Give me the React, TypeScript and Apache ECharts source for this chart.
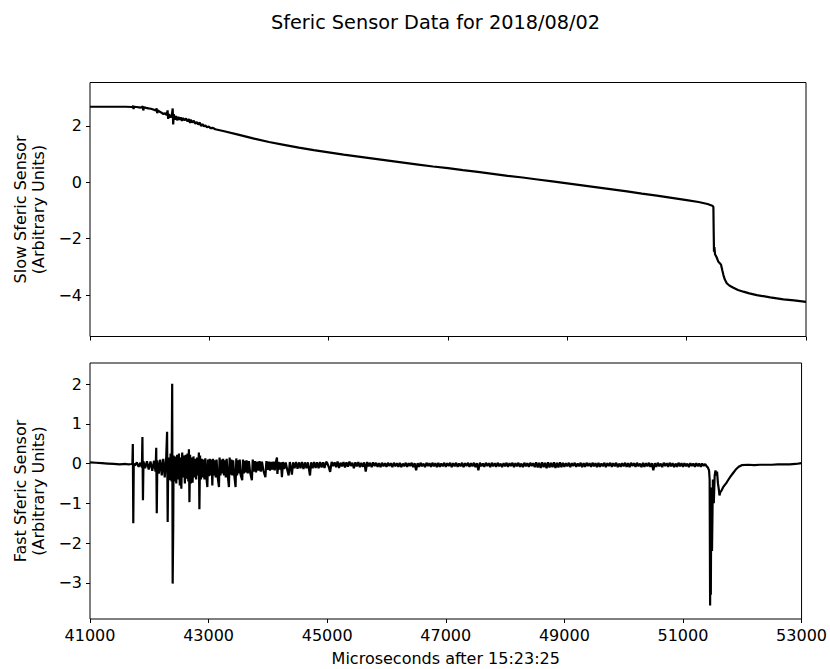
import React, { useEffect, useRef } from "react";
import * as echarts from "echarts";

const titleText = "Sferic Sensor Data for 2018/08/02";
const xLabel = "Microseconds after 15:23:25";
const slowLabel = "Slow Sferic Sensor\n(Arbitrary Units)";
const fastLabel = "Fast Sferic Sensor\n(Arbitrary Units)";

const xTicks = [41000, 43000, 45000, 47000, 49000, 51000, 53000];
const slowTicks = [-4, -2, 0, 2];
const fastTicks = [-3, -2, -1, 0, 1, 2];
const xRange = [41000, 53000];
const slowRange = [-5.47, 3.54];
const fastRange = [-3.91, 2.53];

// Slow sensor: [microseconds, value]
const slowLead = [[41000, 2.68], [41200, 2.68], [41400, 2.68], [41600, 2.68], [41700, 2.67]];
const slowBurst = [
  [41715, 2.66], [41722, 2.72], [41730, 2.6], [41740, 2.68], [41780, 2.67], [41820, 2.66], [41860, 2.65],
  [41884, 2.7], [41893, 2.55], [41905, 2.66], [41940, 2.64], [41980, 2.62], [42020, 2.61], [42060, 2.58],
  [42100, 2.55], [42117, 2.62], [42126, 2.45], [42140, 2.55], [42170, 2.5], [42200, 2.47], [42230, 2.42],
  [42260, 2.45], [42285, 2.38], [42300, 2.55], [42310, 2.25], [42325, 2.42], [42350, 2.3], [42370, 2.36],
  [42386, 2.62], [42394, 2.05], [42405, 2.42], [42420, 2.22], [42440, 2.35], [42460, 2.2], [42480, 2.32],
  [42500, 2.22], [42520, 2.3], [42540, 2.18], [42560, 2.28], [42585, 2.2], [42610, 2.26], [42635, 2.16],
  [42660, 2.24], [42677, 2.1], [42690, 2.22], [42715, 2.12], [42740, 2.18], [42765, 2.08], [42790, 2.14],
  [42815, 2.05], [42840, 2.12], [42860, 2.0], [42885, 2.06], [42910, 1.98], [42935, 2.02], [42960, 1.95],
  [42990, 1.98], [43020, 1.92], [43060, 1.93], [43100, 1.88],
];
const slowTrend = [
  [43250, 1.81], [43500, 1.68], [43750, 1.55], [44000, 1.43], [44250, 1.33], [44500, 1.23], [44750, 1.14],
  [45000, 1.06], [45250, 0.98], [45500, 0.91], [45750, 0.84], [46000, 0.77], [46250, 0.7], [46500, 0.63],
  [46750, 0.56], [47000, 0.5], [47250, 0.43], [47500, 0.37], [47750, 0.3], [48000, 0.23], [48250, 0.17],
  [48500, 0.1], [48750, 0.03], [49000, -0.04], [49250, -0.11], [49500, -0.18], [49750, -0.25],
  [50000, -0.32], [50250, -0.4], [50500, -0.47], [50750, -0.55], [51000, -0.63], [51200, -0.7],
  [51350, -0.77], [51430, -0.83], [51440, -0.85],
];
const slowDrop = [
  [51448, -0.88], [51452, -1.6], [51458, -2.46], [51465, -2.3], [51475, -2.55], [51500, -2.65],
  [51532, -2.82], [51560, -2.88], [51577, -2.93], [51600, -3.15], [51616, -3.29], [51640, -3.45],
  [51672, -3.58], [51720, -3.67], [51784, -3.74], [51860, -3.82], [51951, -3.88], [52050, -3.94],
  [52175, -4.0], [52400, -4.08], [52622, -4.15], [52800, -4.19], [53000, -4.24],
];

// Fast sensor: [microseconds, value]
const fastLead = [
  [41000, 0.03], [41100, 0.02], [41200, 0.01], [41300, 0.0], [41400, -0.01], [41500, -0.02],
  [41600, -0.01], [41650, -0.02], [41700, -0.01],
];
const fastBurst = [
  [41715, 0.0], [41722, 0.49], [41730, -1.5], [41738, 0.0], [41760, -0.05], [41790, 0.03], [41820, -0.08],
  [41850, 0.02], [41875, -0.1], [41884, 0.67], [41893, -0.92], [41902, 0.05], [41930, -0.12], [41960, 0.06],
  [41990, -0.15], [42020, 0.05], [42050, -0.18], [42080, 0.07], [42105, -0.2], [42117, 0.4], [42126, -1.25],
  [42136, 0.08], [42160, -0.25], [42185, 0.1], [42210, -0.3], [42235, 0.12], [42260, -0.35], [42285, 0.15],
  [42300, 0.8], [42310, -1.47], [42320, 0.15], [42340, -0.42], [42360, 0.25], [42376, -0.45],
  [42386, 2.01], [42394, -3.02], [42403, -1.68], [42410, 0.2], [42425, -0.45], [42440, 0.18], [42455, -0.5],
  [42470, 0.22], [42485, -0.4], [42500, 0.25], [42515, -0.55], [42530, 0.15], [42540, -0.63], [42555, 0.28],
  [42570, -0.35], [42585, 0.2], [42600, -0.5], [42615, 0.22], [42630, -0.38], [42645, 0.25], [42658, -0.45],
  [42668, 0.36], [42677, -0.97], [42688, 0.22], [42700, -0.5], [42715, 0.15], [42730, -0.48], [42745, 0.18],
  [42760, -0.35], [42775, 0.12], [42790, -0.4], [42805, 0.15], [42820, -0.3], [42836, 0.28], [42845, -1.15],
  [42856, 0.2], [42870, -0.4], [42885, 0.12], [42900, -0.35], [42915, 0.1], [42930, -0.4], [42945, 0.13],
  [42960, -0.3], [42979, -0.59], [42990, 0.1], [43005, -0.32], [43020, 0.12], [43035, -0.3], [43050, 0.1],
  [43063, -0.55], [43075, 0.12], [43090, -0.3], [43105, 0.08], [43120, -0.35], [43135, 0.1], [43150, -0.3],
  [43175, -0.59], [43185, 0.15], [43200, -0.3], [43215, 0.1], [43230, -0.25], [43245, 0.12], [43260, -0.3],
  [43275, 0.08], [43290, -0.35], [43305, 0.12], [43320, -0.25], [43343, -0.59], [43355, 0.15], [43370, -0.28],
  [43385, 0.1], [43400, -0.3], [43415, 0.08], [43430, -0.25], [43455, -0.59], [43467, 0.13], [43480, -0.3],
  [43495, 0.08], [43510, -0.25], [43525, 0.1], [43540, -0.28], [43567, -0.42], [43580, 0.1], [43595, -0.25],
  [43610, 0.07], [43625, -0.22], [43640, 0.08], [43660, -0.25], [43680, 0.06], [43700, -0.22], [43730, -0.42],
  [43745, 0.1], [43760, -0.2], [43780, 0.06], [43800, -0.22], [43820, 0.05], [43840, -0.18], [43860, 0.06],
  [43880, -0.2], [43900, 0.05], [43925, -0.18], [43958, -0.34], [43975, 0.06], [43995, -0.16], [44015, 0.05],
  [44035, -0.18], [44055, 0.04], [44075, -0.15], [44095, 0.05], [44115, -0.17], [44135, 0.04], [44153, 0.15],
  [44160, -0.26], [44180, 0.04], [44200, -0.15], [44220, 0.03], [44237, -0.34], [44255, 0.04], [44275, -0.14],
  [44300, 0.03], [44325, -0.15], [44350, -0.3], [44370, 0.04], [44390, -0.13], [44405, -0.28], [44425, 0.03],
  [44450, -0.12], [44475, 0.04], [44500, -0.13], [44525, 0.03], [44550, -0.12], [44575, 0.04], [44600, -0.14],
  [44625, 0.03], [44650, -0.12], [44675, 0.03], [44710, -0.3], [44730, 0.03], [44755, -0.12], [44780, 0.04],
  [44805, -0.11], [44830, 0.03], [44855, -0.12], [44880, 0.04], [44905, -0.1], [44930, 0.03], [44955, -0.11],
  [44980, 0.04],
];
// Quiet stretch, sampled every 25 µs starting at 45000
const fastQuietStart = 45000;
const fastQuietStep = 25;
const fastQuietValues = [
  0.02, -0.08, -0.21, 0.04, -0.06, 0.03, -0.09, 0.05, -0.11, 0.02, -0.07, 0.04, -0.1, 0.03, -0.08, 0.05, -0.06, 0.02, -0.12, 0.03,
  -0.07, 0.04, -0.09, 0.02, -0.08, 0.03, -0.2, 0.04, -0.07, 0.02, -0.09, 0.03, -0.06, 0.02, -0.08, 0.01, -0.09, 0.02, -0.07, 0.01,
  -0.08, 0.02, -0.06, 0.01, -0.09, 0.02, -0.07, 0.01, -0.08, 0.02, -0.09, 0.0, -0.07, 0.02, -0.08, 0.01, -0.06, 0.02, -0.09, 0.01,
  -0.17, 0.01, -0.08, 0.02, -0.07, 0.0, -0.09, 0.02, -0.06, 0.01, -0.08, 0.02, -0.07, 0.01, -0.09, 0.02, -0.08, 0.0, -0.07, 0.02,
  -0.08, 0.01, -0.06, 0.02, -0.09, 0.01, -0.07, 0.02, -0.08, 0.0, -0.07, 0.02, -0.09, 0.01, -0.06, 0.02, -0.08, 0.01, -0.07, 0.02,
  -0.09, 0.01, -0.17, 0.02, -0.07, 0.0, -0.08, 0.02, -0.06, 0.01, -0.09, 0.02, -0.07, 0.01, -0.08, 0.02, -0.07, 0.0, -0.09, 0.01,
  -0.07, 0.02, -0.08, 0.01, -0.06, 0.02, -0.09, 0.01, -0.07, 0.02, -0.08, 0.0, -0.09, 0.02, -0.07, 0.01, -0.08, 0.02, -0.06, 0.01,
  -0.09, 0.03, -0.1, 0.02, -0.11, 0.03, -0.09, 0.02, -0.12, 0.03, -0.1, 0.02, -0.09, 0.03, -0.11, 0.02, -0.1, 0.03, -0.09, 0.02,
  -0.08, 0.01, -0.07, 0.02, -0.09, 0.01, -0.06, 0.02, -0.08, 0.0, -0.07, 0.02, -0.09, 0.01, -0.08, 0.02, -0.06, 0.01, -0.08, 0.02,
  -0.07, 0.01, -0.09, 0.02, -0.08, 0.0, -0.07, 0.02, -0.09, 0.01, -0.06, 0.02, -0.08, 0.01, -0.07, 0.02, -0.09, 0.0, -0.08, 0.01,
  -0.07, 0.02, -0.08, 0.01, -0.09, 0.02, -0.06, 0.01, -0.08, 0.02, -0.07, 0.0, -0.09, 0.02, -0.08, 0.01, -0.07, 0.02, -0.08, 0.01,
  -0.17, 0.01, -0.08, 0.02, -0.07, 0.0, -0.09, 0.02, -0.06, 0.01, -0.08, 0.02, -0.07, 0.01, -0.09, 0.0, -0.08, 0.02, -0.07, 0.01,
  -0.08, 0.01, -0.07, 0.0, -0.09, 0.01, -0.06, 0.0, -0.08, 0.01, -0.07, 0.0, -0.08, 0.0, -0.06, -0.01, -0.07,
];
const fastDip = [
  [51420, -0.1], [51440, -0.17], [51450, -0.4], [51458, -3.57], [51464, -1.2], [51470, -3.3], [51478, -0.6],
  [51490, -2.2], [51505, -0.4], [51520, -1.0], [51535, -0.3], [51549, -0.17], [51560, -0.3], [51575, -0.2],
  [51590, -0.5], [51605, -0.65], [51616, -0.8], [51630, -0.72], [51650, -0.68], [51675, -0.6], [51700, -0.55],
  [51730, -0.49], [51760, -0.42], [51800, -0.33], [51840, -0.25], [51890, -0.15], [51940, -0.08],
  [51990, -0.04], [52100, -0.03], [52200, -0.04], [52300, -0.03], [52400, -0.03], [52500, -0.03],
  [52600, -0.02], [52700, -0.02], [52800, -0.02], [52900, -0.01], [53000, 0.01],
];

const FONT = "DejaVu Sans";
const INK = "#000";

const fmtTick = (v: number) => (v < 0 ? "\u2212" + Math.abs(v) : String(v));

export default function App() {
  const ref = useRef<HTMLDivElement>(null);

  useEffect(() => {
    if (!ref.current) return;
    const chart = echarts.init(ref.current, undefined, { renderer: "svg" });

    const fastQuiet = fastQuietValues.map((v, i) => [fastQuietStart + i * fastQuietStep, v]);
    const slowData = [...slowLead, ...slowBurst, ...slowTrend, ...slowDrop];
    const fastData = [...fastLead, ...fastBurst, ...fastQuiet, ...fastDip];

    const gridCommon = {
      left: 90,
      width: 716,
      show: true,
      borderColor: INK,
      borderWidth: 1,
      backgroundColor: "transparent",
      containLabel: false,
    };

    const xCommon = (showLabels: boolean) => ({
      type: "value",
      min: xRange[0],
      max: xRange[1],
      axisLine: { show: false, onZero: false },
      splitLine: { show: false },
      axisTick: {
        show: true,
        inside: false,
        length: 4,
        customValues: xTicks,
        lineStyle: { color: INK, width: 1 },
      },
      axisLabel: {
        show: showLabels,
        customValues: xTicks,
        margin: 8,
        color: INK,
        fontFamily: FONT,
        fontSize: 16,
        formatter: (v: number) => String(v),
      },
    });

    const yCommon = (range: number[], ticks: number[], name: string) => ({
      type: "value",
      min: range[0],
      max: range[1],
      name,
      nameLocation: "middle",
      nameGap: 40,
      nameTextStyle: { color: INK, fontFamily: FONT, fontSize: 16, lineHeight: 18, align: "center" },
      axisLine: { show: false, onZero: false },
      splitLine: { show: false },
      axisTick: {
        show: true,
        inside: false,
        length: 4,
        customValues: ticks,
        lineStyle: { color: INK, width: 1 },
      },
      axisLabel: {
        customValues: ticks,
        margin: 8,
        color: INK,
        fontFamily: FONT,
        fontSize: 16,
        formatter: fmtTick,
      },
    });

    chart.setOption({
      animation: false,
      backgroundColor: "#fff",
      graphic: [
        {
          type: "text",
          x: 435.5,
          y: 22,
          style: {
            text: titleText,
            textAlign: "center",
            textVerticalAlign: "middle",
            fontFamily: FONT,
            fontSize: 19.3,
            fill: INK,
          },
        },
      ],
      grid: [
        { ...gridCommon, top: 82.5, height: 254 },
        { ...gridCommon, top: 363, height: 256 },
      ],
      xAxis: [
        { ...xCommon(false), gridIndex: 0 },
        {
          ...xCommon(true),
          gridIndex: 1,
          name: xLabel,
          nameLocation: "middle",
          nameGap: 31,
          nameTextStyle: { color: INK, fontFamily: FONT, fontSize: 16 },
        },
      ],
      yAxis: [
        { ...yCommon(slowRange, slowTicks, slowLabel), gridIndex: 0 },
        { ...yCommon(fastRange, fastTicks, fastLabel), gridIndex: 1 },
      ],
      series: [
        {
          type: "line",
          xAxisIndex: 0,
          yAxisIndex: 0,
          data: slowData,
          showSymbol: false,
          symbol: "none",
          lineStyle: { color: INK, width: 2.2 },
          clip: true,
        },
        {
          type: "line",
          xAxisIndex: 1,
          yAxisIndex: 1,
          data: fastData,
          showSymbol: false,
          symbol: "none",
          lineStyle: { color: INK, width: 2.2 },
          clip: true,
        },
      ],
    });

    return () => chart.dispose();
  }, []);

  return (
    <div
      ref={ref}
      style={{ position: "fixed", left: 0, top: 0, width: 830, height: 669, background: "#fff" }}
    />
  );
}
